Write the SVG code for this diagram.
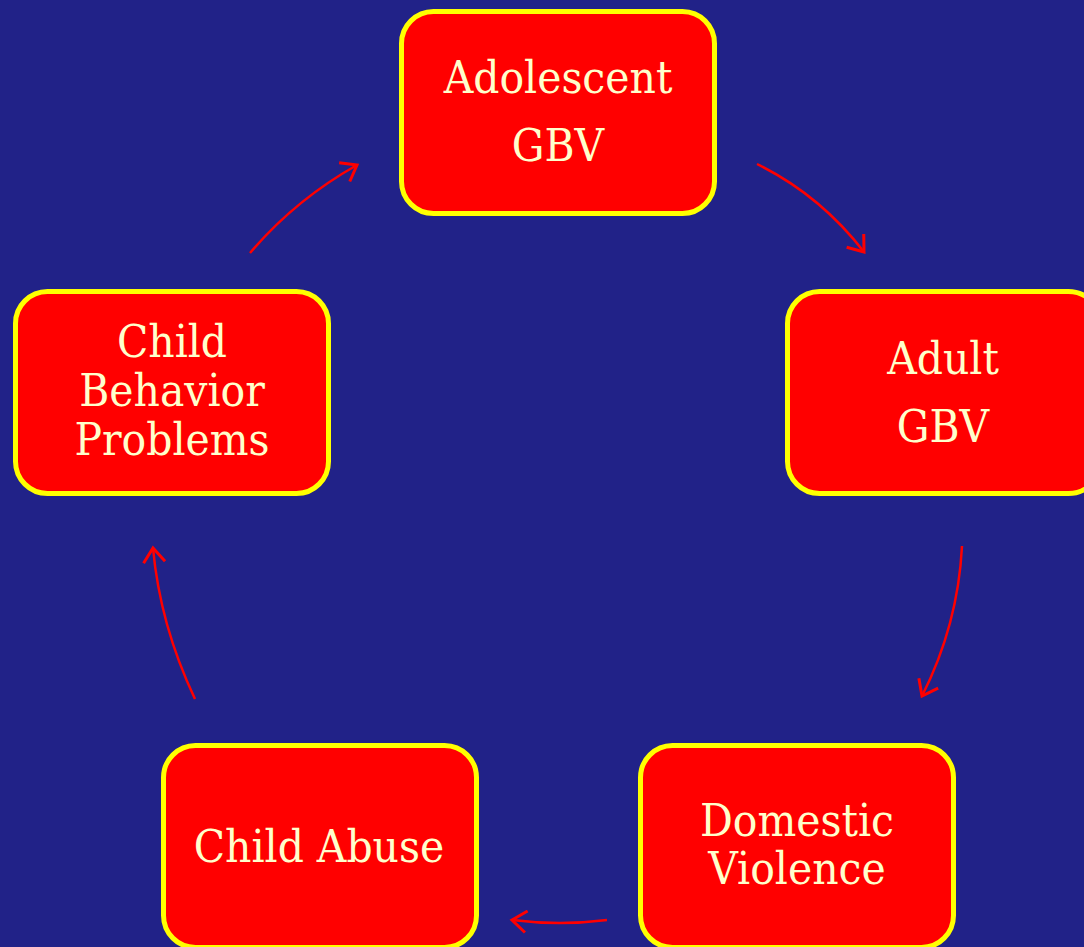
<svg xmlns="http://www.w3.org/2000/svg" width="1084" height="947" viewBox="0 0 1084 947">
<defs>
<style>
.box{fill:#FF0000;stroke:#FFFF00;stroke-width:5}
.t{font-family:"DejaVu Serif Condensed","DejaVu Serif","Liberation Serif",serif;font-size:45.5px;fill:#FFFFCC;text-anchor:middle}
.c{fill:none;stroke:#FF0000;stroke-width:2.5}
</style>
<marker id="ah" markerUnits="userSpaceOnUse" markerWidth="24" markerHeight="24" refX="16" refY="10" orient="auto" viewBox="0 0 20 20">
<path d="M4,1 L16,10 L4,19" fill="none" stroke="#FF0000" stroke-width="2.5"/>
</marker>
</defs>
<rect width="1084" height="947" fill="#212288"/>
<g id="connectors">
<path class="c" d="M250,253 Q295,200 357,165" marker-end="url(#ah)"/>
<path class="c" d="M757,164 Q820,195 864,252" marker-end="url(#ah)"/>
<path class="c" d="M962,546 Q958,625 922,696" marker-end="url(#ah)"/>
<path class="c" d="M607,920 Q560,926 512,920" marker-end="url(#ah)"/>
<path class="c" d="M195,699 Q160,625 153,548" marker-end="url(#ah)"/>
</g>
<g id="adolescent">
<rect class="box" x="401.5" y="11.5" width="313" height="202" rx="32"/>
<text class="t" x="558" y="93">Adolescent</text>
<text class="t" x="558" y="161">GBV</text>
</g>
<g id="adult">
<rect class="box" x="787.5" y="291.5" width="313" height="202" rx="32"/>
<text class="t" x="943" y="374">Adult</text>
<text class="t" x="943" y="442">GBV</text>
</g>
<g id="behavior">
<rect class="box" x="15.5" y="291.5" width="313" height="202" rx="32"/>
<text class="t" x="172" y="357">Child</text>
<text class="t" x="172" y="406">Behavior</text>
<text class="t" x="172" y="455">Problems</text>
</g>
<g id="abuse">
<rect class="box" x="163.5" y="745.5" width="313" height="202" rx="32"/>
<text class="t" x="319" y="862">Child Abuse</text>
</g>
<g id="domestic">
<rect class="box" x="640.5" y="745.5" width="313" height="202" rx="32"/>
<text class="t" x="797" y="836">Domestic</text>
<text class="t" x="797" y="884">Violence</text>
</g>
</svg>
